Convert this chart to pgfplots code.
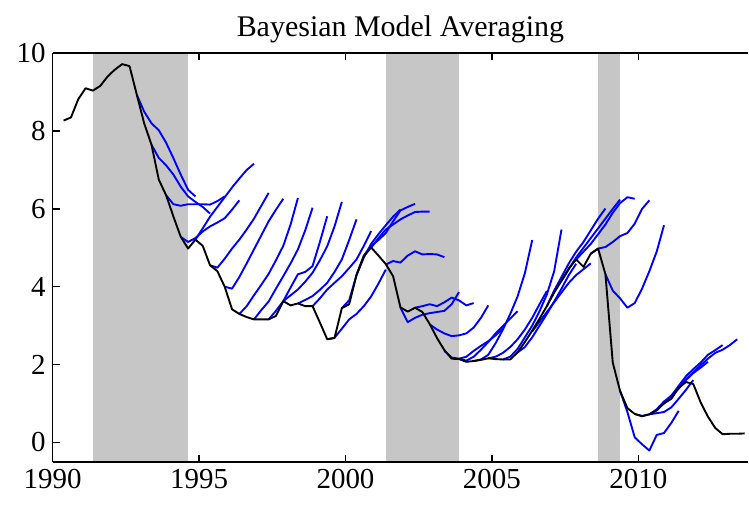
\documentclass[border=0pt]{standalone}
\usepackage{fontspec}
\setmainfont{Liberation Serif}
\usepackage{pgfplots}
\pgfplotsset{compat=1.18}
\definecolor{recgray}{RGB}{198,198,198}
\pgfplotsset{fc/.style={color=blue, line width=0.95pt, no markers, line join=round}}
\begin{document}
\begin{tikzpicture}
\begin{axis}[
  scale only axis,
  width=348.15pt, height=204.5pt,
  xmin=1990, xmax=2013.75, ymin=-0.5, ymax=10,
  axis x line=box, axis y line=left,
  axis line style={-, line width=0.8pt},
  axis on top,
  tick align=inside,
  major tick length=3.5pt,
  tick style={line width=0.7pt, black},
  xtick={1990,1995,2000,2005,2010},
  ytick={0,2,4,6,8,10},
  /pgf/number format/1000 sep={},
  /pgf/number format/assume math mode=true,
  ticklabel style={font=\fontsize{14.5}{16}\selectfont},
  title={Bayesian Model Averaging},
  title style={font=\fontsize{15}{17}\selectfont, yshift=-4.5pt},
  clip=true,
]
% recessions
\addplot[draw=none, fill=recgray] coordinates {(1991.375,-0.5) (1991.375,10) (1994.625,10) (1994.625,-0.5)} -- cycle;
\addplot[draw=none, fill=recgray] coordinates {(2001.375,-0.5) (2001.375,10) (2003.875,10) (2003.875,-0.5)} -- cycle;
\addplot[draw=none, fill=recgray] coordinates {(2008.625,-0.5) (2008.625,10) (2009.375,10) (2009.375,-0.5)} -- cycle;
% forecasts
\addplot[fc] coordinates {(1992.875,8.93)(1993.125,8.5)(1993.375,8.2)(1993.625,8.02)(1993.875,7.7)(1994.125,7.3)(1994.375,6.88)(1994.625,6.49)(1994.875,6.32)};
\addplot[fc] coordinates {(1993.375,7.65)(1993.625,7.31)(1993.875,7.12)(1994.125,6.88)(1994.375,6.57)(1994.625,6.32)(1994.875,6.18)(1995.125,6.05)(1995.375,5.88)};
\addplot[fc] coordinates {(1993.875,6.35)(1994.125,6.12)(1994.375,6.08)(1994.625,6.12)(1994.875,6.12)(1995.125,6.12)(1995.375,6.11)(1995.625,6.2)(1995.875,6.32)};
\addplot[fc] coordinates {(1994.375,5.28)(1994.625,5.15)(1994.875,5.25)(1995.125,5.42)(1995.375,5.55)(1995.625,5.65)(1995.875,5.76)(1996.125,5.98)(1996.375,6.22)};
\addplot[fc] coordinates {(1994.875,5.21)(1995.125,5.5)(1995.375,5.8)(1995.625,6.05)(1995.875,6.3)(1996.125,6.55)(1996.375,6.78)(1996.625,7.0)(1996.875,7.16)};
\addplot[fc] coordinates {(1995.375,4.55)(1995.625,4.49)(1995.875,4.72)(1996.125,4.98)(1996.375,5.21)(1996.625,5.47)(1996.875,5.75)(1997.125,6.08)(1997.375,6.41)};
\addplot[fc] coordinates {(1995.875,4.0)(1996.125,3.95)(1996.375,4.25)(1996.625,4.6)(1996.875,4.96)(1997.125,5.32)(1997.375,5.68)(1997.625,5.98)(1997.875,6.26)};
\addplot[fc] coordinates {(1996.375,3.3)(1996.625,3.5)(1996.875,3.78)(1997.125,4.05)(1997.375,4.33)(1997.625,4.68)(1997.875,5.05)(1998.125,5.6)(1998.375,6.28)};
\addplot[fc] coordinates {(1996.875,3.16)(1997.125,3.4)(1997.375,3.62)(1997.625,3.95)(1997.875,4.27)(1998.125,4.6)(1998.375,4.96)(1998.625,5.45)(1998.875,6.03)};
\addplot[fc] coordinates {(1997.375,3.16)(1997.625,3.38)(1997.875,3.63)(1998.125,3.98)(1998.375,4.32)(1998.625,4.38)(1998.875,4.53)(1999.125,5.15)(1999.375,5.81)};
\addplot[fc] coordinates {(1997.875,3.63)(1998.125,3.78)(1998.375,3.93)(1998.625,4.13)(1998.875,4.36)(1999.125,4.68)(1999.375,5.04)(1999.625,5.55)(1999.875,6.18)};
\addplot[fc] coordinates {(1998.375,3.57)(1998.625,3.66)(1998.875,3.76)(1999.125,3.92)(1999.375,4.1)(1999.625,4.38)(1999.875,4.7)(2000.125,5.2)(2000.375,5.73)};
\addplot[fc] coordinates {(1998.875,3.5)(1999.125,3.7)(1999.375,3.93)(1999.625,4.1)(1999.875,4.27)(2000.125,4.48)(2000.375,4.7)(2000.625,5.05)(2000.875,5.43)};
\addplot[fc] coordinates {(1999.375,2.65)(1999.625,2.69)(1999.875,2.92)(2000.125,3.16)(2000.375,3.3)(2000.625,3.5)(2000.875,3.75)(2001.125,4.08)(2001.375,4.44)};
\addplot[fc] coordinates {(1999.875,3.45)(2000.125,3.65)(2000.375,4.3)(2000.625,4.75)(2000.875,5.1)(2001.125,5.35)(2001.375,5.58)(2001.625,5.8)(2001.875,5.98)};
\addplot[fc] coordinates {(2000.375,4.3)(2000.625,4.8)(2000.875,5.05)(2001.125,5.2)(2001.375,5.38)(2001.625,5.68)(2001.875,5.96)(2002.125,6.05)(2002.375,6.13)};
\addplot[fc] coordinates {(2000.875,5.0)(2001.125,5.25)(2001.375,5.47)(2001.625,5.6)(2001.875,5.73)(2002.125,5.83)(2002.375,5.92)(2002.625,5.93)(2002.875,5.93)};
\addplot[fc] coordinates {(2001.375,4.57)(2001.625,4.66)(2001.875,4.62)(2002.125,4.8)(2002.375,4.91)(2002.625,4.83)(2002.875,4.84)(2003.125,4.83)(2003.375,4.76)};
\addplot[fc] coordinates {(2001.875,3.46)(2002.125,3.09)(2002.375,3.2)(2002.625,3.28)(2002.875,3.32)(2003.125,3.35)(2003.375,3.38)(2003.625,3.55)(2003.875,3.86)};
\addplot[fc] coordinates {(2002.375,3.46)(2002.625,3.5)(2002.875,3.55)(2003.125,3.5)(2003.375,3.6)(2003.625,3.72)(2003.875,3.65)(2004.125,3.52)(2004.375,3.58)};
\addplot[fc] coordinates {(2002.875,3.03)(2003.125,2.9)(2003.375,2.8)(2003.625,2.73)(2003.875,2.75)(2004.125,2.8)(2004.375,2.95)(2004.625,3.2)(2004.875,3.52)};
\addplot[fc] coordinates {(2003.375,2.35)(2003.625,2.18)(2003.875,2.15)(2004.125,2.2)(2004.375,2.35)(2004.625,2.48)(2004.875,2.6)(2005.125,2.75)(2005.375,2.92)};
\addplot[fc] coordinates {(2003.875,2.15)(2004.125,2.1)(2004.375,2.2)(2004.625,2.38)(2004.875,2.58)(2005.125,2.8)(2005.375,2.99)(2005.625,3.18)(2005.875,3.37)};
\addplot[fc] coordinates {(2004.375,2.09)(2004.625,2.13)(2004.875,2.25)(2005.125,2.55)(2005.375,2.9)(2005.625,3.3)(2005.875,3.75)(2006.125,4.35)(2006.375,5.2)};
\addplot[fc] coordinates {(2004.875,2.16)(2005.125,2.2)(2005.375,2.3)(2005.625,2.45)(2005.875,2.65)(2006.125,2.9)(2006.375,3.2)(2006.625,3.55)(2006.875,3.89)};
\addplot[fc] coordinates {(2005.375,2.13)(2005.625,2.2)(2005.875,2.4)(2006.125,2.7)(2006.375,3.0)(2006.625,3.37)(2006.875,3.8)(2007.125,4.4)(2007.375,5.47)};
\addplot[fc] coordinates {(2005.875,2.31)(2006.125,2.45)(2006.375,2.7)(2006.625,3.0)(2006.875,3.3)(2007.125,3.62)(2007.375,3.95)(2007.625,4.3)(2007.875,4.59)};
\addplot[fc] coordinates {(2006.375,2.85)(2006.625,3.1)(2006.875,3.35)(2007.125,3.6)(2007.375,3.85)(2007.625,4.1)(2007.875,4.3)(2008.125,4.45)(2008.375,4.6)};
\addplot[fc] coordinates {(2006.875,3.5)(2007.125,3.9)(2007.375,4.25)(2007.625,4.6)(2007.875,4.9)(2008.125,5.15)(2008.375,5.45)(2008.625,5.75)(2008.875,6.01)};
\addplot[fc] coordinates {(2007.375,4.15)(2007.625,4.45)(2007.875,4.75)(2008.125,5.0)(2008.375,5.25)(2008.625,5.5)(2008.875,5.75)(2009.125,6.0)(2009.375,6.24)};
\addplot[fc] coordinates {(2007.875,4.7)(2008.125,4.9)(2008.375,5.1)(2008.625,5.35)(2008.875,5.6)(2009.125,5.9)(2009.375,6.15)(2009.625,6.3)(2009.875,6.26)};
\addplot[fc] coordinates {(2008.375,4.85)(2008.625,4.98)(2008.875,5.02)(2009.125,5.15)(2009.375,5.3)(2009.625,5.38)(2009.875,5.62)(2010.125,6.0)(2010.375,6.22)};
\addplot[fc] coordinates {(2008.875,4.32)(2009.125,3.9)(2009.375,3.7)(2009.625,3.46)(2009.875,3.58)(2010.125,3.95)(2010.375,4.4)(2010.625,4.9)(2010.875,5.58)};
\addplot[fc] coordinates {(2009.375,1.32)(2009.625,0.78)(2009.875,0.13)(2010.125,-0.05)(2010.375,-0.21)(2010.625,0.19)(2010.875,0.24)(2011.125,0.5)(2011.375,0.81)};
\addplot[fc] coordinates {(2009.875,0.73)(2010.125,0.68)(2010.375,0.72)(2010.625,0.75)(2010.875,0.78)(2011.125,0.9)(2011.375,1.12)(2011.625,1.35)(2011.875,1.6)};
\addplot[fc] coordinates {(2010.375,0.72)(2010.625,0.85)(2010.875,1.05)(2011.125,1.2)(2011.375,1.38)(2011.625,1.6)(2011.875,1.78)(2012.125,1.92)(2012.375,2.07)};
\addplot[fc] coordinates {(2010.875,1.0)(2011.125,1.2)(2011.375,1.45)(2011.625,1.7)(2011.875,1.88)(2012.125,2.05)(2012.375,2.25)(2012.625,2.37)(2012.875,2.5)};
\addplot[fc] coordinates {(2011.375,1.4)(2011.625,1.62)(2011.875,1.8)(2012.125,1.98)(2012.375,2.15)(2012.625,2.3)(2012.875,2.38)(2013.125,2.5)(2013.375,2.65)};
% actual
\addplot[black, line width=0.95pt, no markers, line join=round] coordinates {
(1990.375,8.27)(1990.625,8.35)(1990.875,8.82)(1991.125,9.1)(1991.375,9.04)(1991.625,9.16)
(1991.875,9.4)(1992.125,9.58)(1992.375,9.72)(1992.625,9.67)(1992.875,8.93)(1993.125,8.2)
(1993.375,7.65)(1993.625,6.75)(1993.875,6.35)(1994.125,5.8)(1994.375,5.28)(1994.625,4.98)
(1994.875,5.21)(1995.125,5.05)(1995.375,4.55)(1995.625,4.4)(1995.875,4.0)(1996.125,3.42)
(1996.375,3.3)(1996.625,3.22)(1996.875,3.16)(1997.125,3.16)(1997.375,3.16)(1997.625,3.25)
(1997.875,3.63)(1998.125,3.52)(1998.375,3.57)(1998.625,3.5)(1998.875,3.5)(1999.125,3.08)
(1999.375,2.65)(1999.625,2.68)(1999.875,3.45)(2000.125,3.55)(2000.375,4.3)(2000.625,4.78)
(2000.875,5.01)(2001.125,4.8)(2001.375,4.58)(2001.625,4.27)(2001.875,3.47)(2002.125,3.36)
(2002.375,3.46)(2002.625,3.35)(2002.875,3.04)(2003.125,2.68)(2003.375,2.37)(2003.625,2.15)
(2003.875,2.14)(2004.125,2.07)(2004.375,2.09)(2004.625,2.12)(2004.875,2.16)(2005.125,2.14)
(2005.375,2.13)(2005.625,2.13)(2005.875,2.31)(2006.125,2.58)(2006.375,2.87)(2006.625,3.18)
(2006.875,3.5)(2007.125,3.85)(2007.375,4.15)(2007.625,4.47)(2007.875,4.7)(2008.125,4.51)
(2008.375,4.85)(2008.625,4.98)(2008.875,4.32)(2009.125,2.05)(2009.375,1.32)(2009.625,0.88)
(2009.875,0.73)(2010.125,0.67)(2010.375,0.72)(2010.625,0.82)(2010.875,1.0)(2011.125,1.12)
(2011.375,1.4)(2011.625,1.55)(2011.875,1.5)(2012.125,1.03)(2012.375,0.66)(2012.625,0.37)
(2012.875,0.21)(2013.125,0.22)(2013.375,0.22)(2013.625,0.23)};
\end{axis}
\path ([shift={(-26.35pt,-21.35pt)}]current axis.south west) rectangle ([shift={(0pt,26.65pt)}]current axis.north east);
\end{tikzpicture}
\end{document}
